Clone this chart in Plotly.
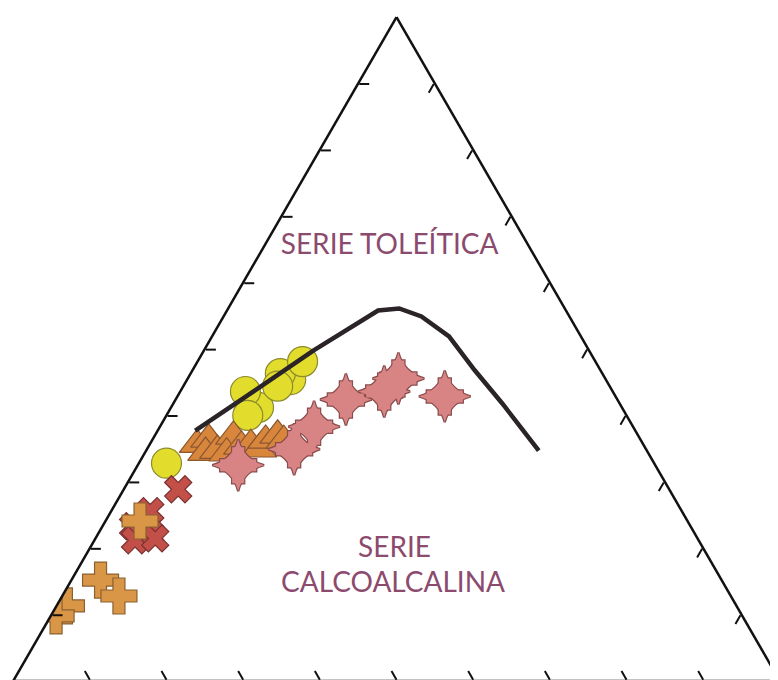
"""AFM ternary diagram: serie toleítica vs calcoalcalina."""
import plotly.graph_objects as go

# boundary curve (Irvine & Baragar style), F-A-M in %
curve_F = [37.7, 43.8, 49.8, 55.8, 56.1, 54.9, 51.9, 46.8, 41.8, 34.7]
curve_A = [57.4, 46.5, 35.9, 24.5, 21.6, 19.3, 17.2, 16.4, 15.3, 14.1]
curve_M = [4.9, 9.7, 14.3, 19.7, 22.3, 25.8, 30.9, 36.8, 42.9, 51.2]

# yellow circles
circ_F = [45.4, 46.3, 41.2, 48.1, 44.4, 43.6, 40.0, 32.8]
circ_A = [41.1, 42.0, 47.4, 38.2, 43.3, 47.9, 49.4, 63.6]
circ_M = [13.5, 11.7, 11.4, 13.7, 12.3, 8.5, 10.6, 3.6]

# orange triangles
tri_F = [35.6, 36.4, 34.4, 34.7, 36.8, 34.3, 35.3, 35.6, 34.9, 36.2, 37.0, 36.2]
tri_A = [58.2, 56.3, 57.7, 56.0, 52.8, 55.0, 52.5, 51.2, 50.5, 48.9, 47.0, 46.6]
tri_M = [6.2, 7.3, 7.9, 9.3, 10.3, 10.7, 12.1, 13.2, 14.6, 14.8, 16.0, 17.2]

# pink quatrefoils
pink_F = [32.5, 34.9, 38.3, 42.4, 43.6, 45.6, 42.9]
pink_A = [54.4, 45.9, 41.6, 35.4, 29.8, 27.0, 22.3]
pink_M = [13.1, 19.2, 20.1, 22.2, 26.6, 27.5, 34.9]

# red crosses (x)
red_F = [28.9, 25.6, 23.3, 22.3, 21.2, 21.5]
red_A = [64.1, 69.4, 72.7, 71.0, 73.5, 70.8]
red_M = [7.1, 5.1, 4.0, 6.7, 5.3, 7.8]

# orange crosses (+)
plus_F = [24.1, 15.2, 12.8, 11.3, 9.8]
plus_A = [71.4, 81.0, 79.8, 87.4, 89.5]
plus_M = [4.5, 3.8, 7.4, 1.3, 0.7]

# field labels
lab_text = ["SERIE TOLEÍTICA", "SERIE", "CALCOALCALINA"]
lab_F = [65.4, 19.7, 14.5]
lab_A = [18.2, 40.4, 43.2]
lab_M = [16.4, 39.9, 42.3]

TXT = "#8c4a6e"

fig = go.Figure()


def pts(F, A, M, symbol, size, fill, edge, lw=1.2):
    fig.add_trace(go.Scatterternary(
        a=F, b=A, c=M, mode="markers", hoverinfo="skip",
        marker=dict(symbol=symbol, size=size, color=fill,
                    line=dict(color=edge, width=lw))))


pts(circ_F, circ_A, circ_M, "circle", 30, "#e2dc2c", "#8c8a2c")
pts(tri_F, tri_A, tri_M, "triangle-up", 31, "#d8863c", "#8a5630")
# quatrefoil = pointed star + fat cross; outlines first, then fills on top
pts(pink_F, pink_A, pink_M, "star-diamond", 37, "#d88484", "#8a4c4c", 2.4)
pts(pink_F, pink_A, pink_M, "cross", 30, "#d88484", "#8a4c4c", 2.4)
pts(pink_F, pink_A, pink_M, "star-diamond", 37, "#d88484", "#d88484", 0)
pts(pink_F, pink_A, pink_M, "cross", 30, "#d88484", "#d88484", 0)
pts(red_F, red_A, red_M, "x", 24, "#c25048", "#7a3030")
pts(plus_F, plus_A, plus_M, "cross", 30, "#d89646", "#8a6030")

fig.add_trace(go.Scatterternary(
    a=curve_F, b=curve_A, c=curve_M, mode="lines", hoverinfo="skip",
    line=dict(color="#2a2428", width=4.5)))

fig.add_trace(go.Scatterternary(
    a=lab_F, b=lab_A, c=lab_M, mode="text", text=lab_text,
    textfont=dict(family="Lato", size=28, color=TXT),
    hoverinfo="skip"))

ax = dict(showticklabels=False, showgrid=False, ticks="inside", ticklen=10,
          tickwidth=2, tickcolor="#111", tick0=0, dtick=10,
          linecolor="#111", linewidth=2.5, title="")

fig.update_layout(
    width=778, height=680, margin=dict(l=0, r=0, t=0, b=0),
    paper_bgcolor="white", showlegend=False,
    ternary=dict(sum=100, bgcolor="white",
                 domain=dict(x=[5 / 778, 772 / 778], y=[7 / 680, 671 / 680]),
                 aaxis=ax, baxis=ax, caxis=ax))

fig.write_html("out.html")
